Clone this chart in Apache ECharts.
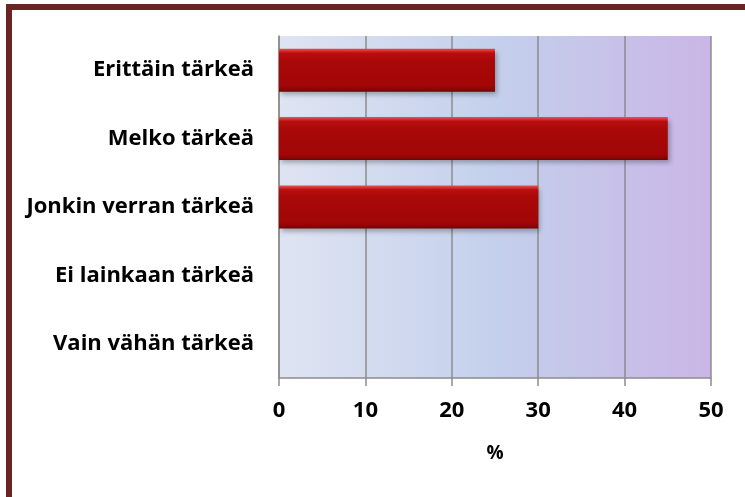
<!DOCTYPE html>
<html>
<head>
<meta charset="utf-8">
<script src="https://cdn.jsdelivr.net/npm/echarts@6/dist/echarts.min.js"></script>
<style>
  html, body { margin: 0; padding: 0; background: #ffffff; }
  #chart { width: 745px; height: 497px; }
</style>
</head>
<body>
<div id="chart"></div>
<script>
// Response categories, top to bottom
const categories = [
  'Erittäin tärkeä',
  'Melko tärkeä',
  'Jonkin verran tärkeä',
  'Ei lainkaan tärkeä',
  'Vain vähän tärkeä'
];
// Share of respondents (%)
const shares = [25, 45, 30, 0, 0];
// Value axis range
const axisMin = 0;
const axisMax = 50;
const axisStep = 10;
const axisName = '%';

const FONT = '"Open Sans", Lato, sans-serif';

const chart = echarts.init(document.getElementById('chart'));
chart.setOption({
  animation: false,
  backgroundColor: '#ffffff',
  graphic: [
    {
      type: 'rect',
      shape: { x: 9, y: 7, width: 800, height: 560 },
      style: { fill: 'none', stroke: '#6b2424', lineWidth: 6 },
      z: 0
    }
  ],
  grid: {
    left: 279,
    right: 34,
    top: 36,
    bottom: 119,
    show: true,
    borderWidth: 0,
    backgroundColor: {
      type: 'linear', x: 0, y: 0, x2: 1, y2: 0,
      colorStops: [
        { offset: 0, color: '#dfe4f2' },
        { offset: 0.5, color: '#c4d0ec' },
        { offset: 1, color: '#cab6e6' }
      ]
    }
  },
  xAxis: {
    type: 'value',
    min: axisMin,
    max: axisMax,
    interval: axisStep,
    name: axisName,
    nameLocation: 'middle',
    nameGap: 66,
    nameTextStyle: { fontFamily: FONT, fontWeight: 'bold', fontSize: 19, color: '#000' },
    axisLine: { show: true, lineStyle: { color: '#8c8c8c', width: 1.5 } },
    axisTick: { show: true, length: 8, lineStyle: { color: '#8c8c8c', width: 1.5 } },
    axisLabel: { margin: 22, fontFamily: FONT, fontWeight: 'bold', fontSize: 22, color: '#000' },
    splitLine: { show: true, lineStyle: { color: '#8c8c8c', width: 1.5 } }
  },
  yAxis: {
    type: 'category',
    data: categories,
    inverse: true,
    axisLine: { show: true, lineStyle: { color: '#8c8c8c', width: 1.5 } },
    axisTick: { show: false },
    axisLabel: { margin: 25, fontFamily: FONT, fontWeight: 'bold', fontSize: 22, color: '#000' }
  },
  series: [
    {
      type: 'bar',
      data: shares,
      barWidth: 43,
      itemStyle: {
        color: {
          type: 'linear', x: 0, y: 0, x2: 0, y2: 1,
          colorStops: [
            { offset: 0, color: '#e65252' },
            { offset: 0.05, color: '#d63030' },
            { offset: 0.1, color: '#b80e0e' },
            { offset: 0.3, color: '#a80808' },
            { offset: 0.86, color: '#a20606' },
            { offset: 0.94, color: '#8c0606' },
            { offset: 1, color: '#6e0404' }
          ]
        },
        shadowColor: 'rgba(0,0,0,0.3)',
        shadowBlur: 5,
        shadowOffsetX: 2,
        shadowOffsetY: 3
      }
    }
  ]
});
</script>
</body>
</html>
